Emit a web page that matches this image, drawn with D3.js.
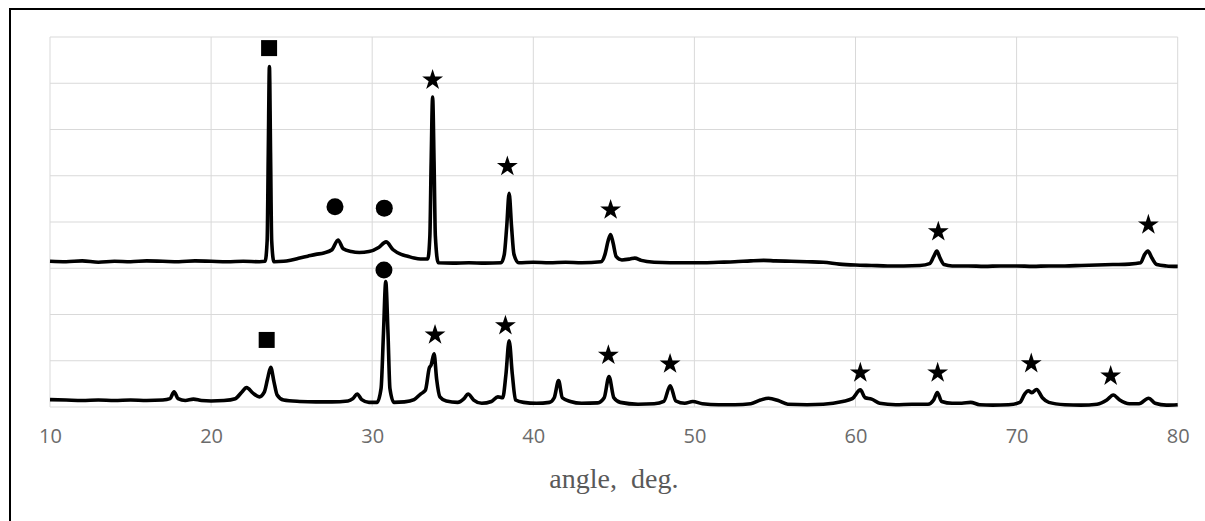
<!DOCTYPE html>
<html>
<head>
<meta charset="utf-8">
<script src="https://cdn.jsdelivr.net/npm/d3@7"></script>
<style>
  body { margin: 0; background: #fff; }
  svg { display: block; }
</style>
</head>
<body>
<svg id="chart" width="1205" height="521"></svg>
<script>
// x ticks of the diffractogram
const xTicks = [10, 20, 30, 40, 50, 60, 70, 80];

// upper scan: [angle, intensity] (intensity in gridline units)
const topScan = [
  [10, 3.15], [11, 3.14], [12, 3.16], [13, 3.13], [14, 3.15], [15, 3.14], [16, 3.16],
  [17, 3.15], [18, 3.14], [19, 3.16], [20, 3.15], [21, 3.14], [22, 3.15], [23, 3.14],
  [23.35, 3.15], [23.48, 3.6], [23.55, 5.5], [23.62, 7.36], [23.69, 5.5], [23.76, 3.6],
  [23.9, 3.14], [24.5, 3.15], [25, 3.18], [25.5, 3.22], [26, 3.26], [26.5, 3.3], [27, 3.33],
  [27.5, 3.4], [27.88, 3.61], [28.2, 3.42], [28.7, 3.36], [29.2, 3.34], [29.8, 3.36],
  [30.4, 3.45], [30.86, 3.57], [31.3, 3.4], [31.8, 3.3], [32.2, 3.26], [32.6, 3.22],
  [33.0, 3.2], [33.45, 3.2], [33.58, 3.7], [33.66, 5.3], [33.75, 6.7], [33.84, 5.3],
  [33.92, 3.7], [34.1, 3.12], [35, 3.11], [36, 3.12], [37, 3.11], [38.0, 3.12],
  [38.2, 3.3], [38.35, 3.9], [38.5, 4.62], [38.65, 3.9], [38.8, 3.3], [39.1, 3.12],
  [40, 3.13], [41, 3.12], [42, 3.13], [43, 3.12], [44.2, 3.14], [44.45, 3.3], [44.65, 3.6],
  [44.8, 3.73], [44.95, 3.55], [45.15, 3.25], [45.5, 3.18], [46.0, 3.2], [46.3, 3.22],
  [46.7, 3.17], [47.5, 3.13], [48.5, 3.12], [49.5, 3.12], [50.5, 3.12], [51.5, 3.13],
  [52.5, 3.14], [53.5, 3.16], [54.3, 3.17], [55, 3.16], [56, 3.15], [57, 3.14], [58, 3.13],
  [59, 3.09], [60, 3.07], [61, 3.06], [62, 3.05], [63, 3.05], [64, 3.06], [64.6, 3.1],
  [64.85, 3.25], [65.05, 3.37], [65.25, 3.22], [65.5, 3.08], [66, 3.05], [67, 3.05],
  [68, 3.04], [69, 3.05], [70, 3.05], [71, 3.04], [72, 3.05], [73, 3.05], [74, 3.06],
  [75, 3.07], [76, 3.08], [77, 3.09], [77.7, 3.12], [77.95, 3.3], [78.15, 3.37],
  [78.4, 3.22], [78.7, 3.08], [79.3, 3.05], [80, 3.04]
];

// lower scan
const bottomScan = [
  [10, 0.16], [11, 0.15], [12, 0.14], [13, 0.15], [14, 0.14], [15, 0.15], [16, 0.14],
  [17, 0.15], [17.45, 0.18], [17.7, 0.33], [17.95, 0.18], [18.4, 0.14], [18.9, 0.17],
  [19.4, 0.14], [20, 0.13], [20.8, 0.14], [21.5, 0.18], [21.9, 0.32], [22.2, 0.42],
  [22.6, 0.3], [23.0, 0.22], [23.3, 0.32], [23.5, 0.6], [23.7, 0.86], [23.9, 0.55],
  [24.1, 0.26], [24.5, 0.15], [25.5, 0.12], [26.5, 0.11], [27.5, 0.11], [28.5, 0.13],
  [28.8, 0.18], [29.07, 0.28], [29.35, 0.16], [29.8, 0.1], [30.3, 0.1], [30.55, 0.4],
  [30.7, 1.6], [30.84, 2.71], [30.98, 1.6], [31.1, 0.4], [31.35, 0.1], [32, 0.11],
  [32.6, 0.16], [33.0, 0.28], [33.3, 0.36], [33.55, 0.85], [33.65, 0.9], [33.84, 1.15],
  [34.0, 0.6], [34.2, 0.22], [34.6, 0.13], [35.3, 0.1], [35.7, 0.18], [35.95, 0.28],
  [36.3, 0.15], [36.8, 0.08], [37.4, 0.12], [37.8, 0.22], [38.1, 0.2], [38.3, 0.7],
  [38.5, 1.43], [38.7, 0.7], [38.9, 0.15], [39.4, 0.1], [40.2, 0.08], [41.0, 0.1],
  [41.3, 0.2], [41.57, 0.57], [41.8, 0.2], [42.3, 0.12], [43, 0.08], [44, 0.09],
  [44.4, 0.2], [44.7, 0.66], [45.0, 0.2], [45.4, 0.1], [46.5, 0.06], [47.5, 0.07],
  [48.1, 0.12], [48.5, 0.46], [48.85, 0.13], [49.4, 0.08], [49.9, 0.12], [50.5, 0.07],
  [51.5, 0.05], [52.5, 0.05], [53.5, 0.07], [54.1, 0.15], [54.6, 0.19], [55.2, 0.14],
  [55.8, 0.06], [57, 0.05], [58, 0.06], [59.2, 0.12], [59.8, 0.18], [60.3, 0.37],
  [60.6, 0.2], [61.0, 0.17], [61.5, 0.08], [62.5, 0.05], [63.5, 0.06], [64.5, 0.06],
  [64.85, 0.15], [65.08, 0.31], [65.35, 0.12], [66, 0.08], [66.6, 0.08], [67.15, 0.1],
  [67.7, 0.05], [68.5, 0.04], [69.5, 0.05], [70.2, 0.1], [70.5, 0.28], [70.73, 0.35],
  [70.95, 0.31], [71.24, 0.38], [71.6, 0.2], [72.0, 0.1], [73, 0.05], [74, 0.04],
  [75, 0.06], [75.6, 0.15], [76.0, 0.26], [76.4, 0.15], [77, 0.07], [77.6, 0.07],
  [78.2, 0.19], [78.6, 0.08], [79.3, 0.04], [80, 0.05]
];

// phase markers: [angle, height, shape]
const topMarks = [
  [23.6, 7.76, "square"], [27.69, 4.33, "circle"], [30.75, 4.3, "circle"],
  [33.75, 7.07, "star"], [38.39, 5.2, "star"], [44.8, 4.26, "star"],
  [65.14, 3.79, "star"], [78.18, 3.94, "star"]
];
const bottomMarks = [
  [23.45, 1.45, "square"], [30.73, 2.96, "circle"], [33.9, 1.56, "star"],
  [38.27, 1.76, "star"], [44.66, 1.12, "star"], [48.49, 0.93, "star"],
  [60.3, 0.74, "star"], [65.1, 0.74, "star"], [70.91, 0.94, "star"],
  [75.84, 0.67, "star"]
];

const svg = d3.select("#chart");
const plotLeft = 50, plotRight = 1177.7, plotTop = 37, plotBottom = 407;

const x = d3.scaleLinear().domain([10, 80]).range([plotLeft, plotRight]);
const y = d3.scaleLinear().domain([0, 8]).range([plotBottom, plotTop]);

// outer frame (only top and left edges fall inside the picture)
svg.append("path")
  .attr("d", `M10,521 L10,9 L1205,9`)
  .attr("fill", "none")
  .attr("stroke", "#000")
  .attr("stroke-width", 2);

// gridlines
const grid = svg.append("g").attr("stroke", "#d9d9d9").attr("stroke-width", 1);
grid.selectAll(".hg")
  .data(y.ticks(8))
  .join("line")
    .attr("class", "hg")
    .attr("x1", plotLeft).attr("x2", plotRight)
    .attr("y1", d => y(d)).attr("y2", d => y(d));
grid.selectAll(".vg")
  .data(xTicks)
  .join("line")
    .attr("class", "vg")
    .attr("x1", d => x(d)).attr("x2", d => x(d))
    .attr("y1", plotTop).attr("y2", plotBottom);

// x axis labels
const xAxis = svg.append("g")
  .attr("transform", `translate(0, ${plotBottom})`)
  .call(d3.axisBottom(x).tickValues(xTicks).tickSize(0).tickPadding(22));
xAxis.select(".domain").remove();
xAxis.selectAll("text")
  .attr("fill", "#6b6b6b")
  .style("font-family", "'Open Sans', 'Noto Sans', sans-serif")
  .style("font-size", "20px");

svg.append("text")
  .attr("x", (plotLeft + plotRight) / 2)
  .attr("y", 488)
  .attr("text-anchor", "middle")
  .attr("fill", "#595959")
  .style("font-family", "'Liberation Serif', 'DejaVu Serif', serif")
  .style("font-size", "28px")
  .style("white-space", "pre")
  .text("angle,  deg.");

// scans
const line = d3.line()
  .x(d => x(d[0]))
  .y(d => y(d[1]))
  .curve(d3.curveMonotoneX);

svg.selectAll(".scan")
  .data([topScan, bottomScan])
  .join("path")
    .attr("class", "scan")
    .attr("d", line)
    .attr("fill", "none")
    .attr("stroke", "#000")
    .attr("stroke-width", 3.6)
    .attr("stroke-linejoin", "round");

// markers
const shapes = {
  square: d3.symbol(d3.symbolSquare, 256),
  circle: d3.symbol(d3.symbolCircle, 227),
  star: d3.symbol(d3.symbolStar, 135)
};

svg.selectAll(".mark")
  .data(topMarks.concat(bottomMarks))
  .join("path")
    .attr("class", "mark")
    .attr("transform", d => `translate(${x(d[0])}, ${y(d[1])})`)
    .attr("d", d => shapes[d[2]]())
    .attr("fill", "#000");
</script>
</body>
</html>
